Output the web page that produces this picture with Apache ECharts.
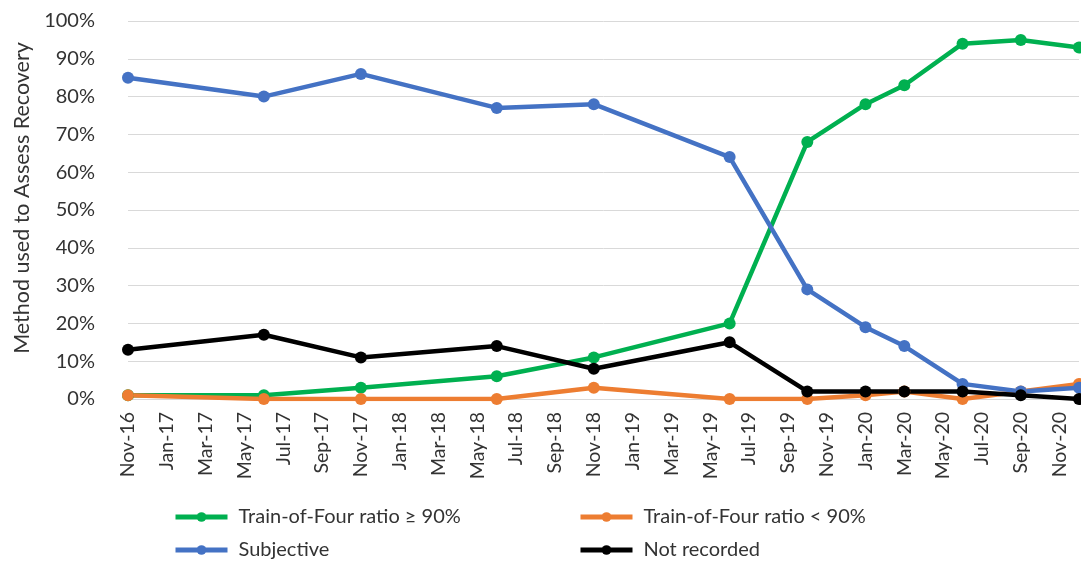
<!DOCTYPE html>
<html>
<head>
<meta charset="utf-8">
<script src="https://cdn.jsdelivr.net/npm/echarts@6/dist/echarts.min.js"></script>
<style>
  html, body { margin: 0; padding: 0; background: #fff; }
  #chart { width: 1081px; height: 561px; }
</style>
</head>
<body>
<div id="chart"></div>
<script>
// monthly category axis, Nov-16 .. Dec-20 (labels shown every 2nd month)
var months = ['Nov-16', 'Dec-16',
    'Jan-17', 'Feb-17', 'Mar-17', 'Apr-17', 'May-17', 'Jun-17', 'Jul-17', 'Aug-17', 'Sep-17', 'Oct-17', 'Nov-17', 'Dec-17',
    'Jan-18', 'Feb-18', 'Mar-18', 'Apr-18', 'May-18', 'Jun-18', 'Jul-18', 'Aug-18', 'Sep-18', 'Oct-18', 'Nov-18', 'Dec-18',
    'Jan-19', 'Feb-19', 'Mar-19', 'Apr-19', 'May-19', 'Jun-19', 'Jul-19', 'Aug-19', 'Sep-19', 'Oct-19', 'Nov-19', 'Dec-19',
    'Jan-20', 'Feb-20', 'Mar-20', 'Apr-20', 'May-20', 'Jun-20', 'Jul-20', 'Aug-20', 'Sep-20', 'Oct-20', 'Nov-20', 'Dec-20'];

// months in which data was collected
var surveyMonths = ['Nov-16', 'Jun-17', 'Nov-17', 'Jun-18', 'Nov-18', 'Jun-19', 'Oct-19', 'Jan-20', 'Mar-20', 'Jun-20', 'Sep-20', 'Dec-20'];

var tofHigh = [1, 1, 3, 6, 11, 20, 68, 78, 83, 94, 95, 93];
var tofLow = [1, 0, 0, 0, 3, 0, 0, 1, 2, 0, 2, 4];
var subjective = [85, 80, 86, 77, 78, 64, 29, 19, 14, 4, 2, 3];
var notRecorded = [13, 17, 11, 14, 8, 15, 2, 2, 2, 2, 1, 0];

var fontFam = 'Lato, "Open Sans", sans-serif';

function pairs(vals) {
    return surveyMonths.map(function (m, i) { return [m, vals[i]]; });
}

function lineSeries(name, color, vals) {
    return {
        name: name,
        type: 'line',
        data: pairs(vals),
        symbol: 'circle',
        symbolSize: 12,
        lineStyle: { width: 4.5, color: color },
        itemStyle: { color: color },
        emphasis: { disabled: true },
        z: 2
    };
}

function legendCol(left, names) {
    return {
        orient: 'vertical',
        left: left,
        top: 507,
        height: 80,
        padding: 0,
        itemWidth: 52,
        itemHeight: 12,
        itemGap: 13,
        lineStyle: { width: 5 },
        data: names,
        textStyle: { fontSize: 20, lineHeight: 20, color: '#333', fontFamily: fontFam, padding: [0, 0, 0, 6] }
    };
}

var chart = echarts.init(document.getElementById('chart'));
chart.setOption({
    animation: false,
    backgroundColor: '#fff',
    grid: { left: 128, right: 2, top: 21, bottom: 162 },
    legend: [
        legendCol(173, ['Train-of-Four ratio \u2265 90%', 'Subjective']),
        legendCol(578, ['Train-of-Four ratio < 90%', 'Not recorded'])
    ],
    xAxis: {
        type: 'category',
        data: months,
        boundaryGap: false,
        axisLine: { show: true, lineStyle: { color: '#d9d9d9', width: 1 } },
        axisTick: { show: false },
        axisLabel: {
            interval: 1,
            rotate: 90,
            margin: 13,
            fontSize: 19.5,
            color: '#333',
            fontFamily: fontFam
        },
        splitLine: { show: false }
    },
    yAxis: {
        type: 'value',
        min: 0,
        max: 100,
        interval: 10,
        name: 'Method used to Assess Recovery',
        nameLocation: 'middle',
        nameGap: 94,
        nameTextStyle: { fontSize: 21.5, color: '#333', fontFamily: fontFam, padding: [0, 0, 0, 24] },
        axisLine: { show: false },
        axisTick: { show: false },
        axisLabel: {
            formatter: '{value}%',
            margin: 33,
            fontSize: 20,
            color: '#333',
            fontFamily: fontFam
        },
        splitLine: { lineStyle: { color: '#d9d9d9', width: 1 } }
    },
    series: [
        lineSeries('Train-of-Four ratio \u2265 90%', '#00b050', tofHigh),
        lineSeries('Train-of-Four ratio < 90%', '#ed7d31', tofLow),
        lineSeries('Subjective', '#4472c4', subjective),
        lineSeries('Not recorded', '#000000', notRecorded)
    ]
});
</script>
</body>
</html>
